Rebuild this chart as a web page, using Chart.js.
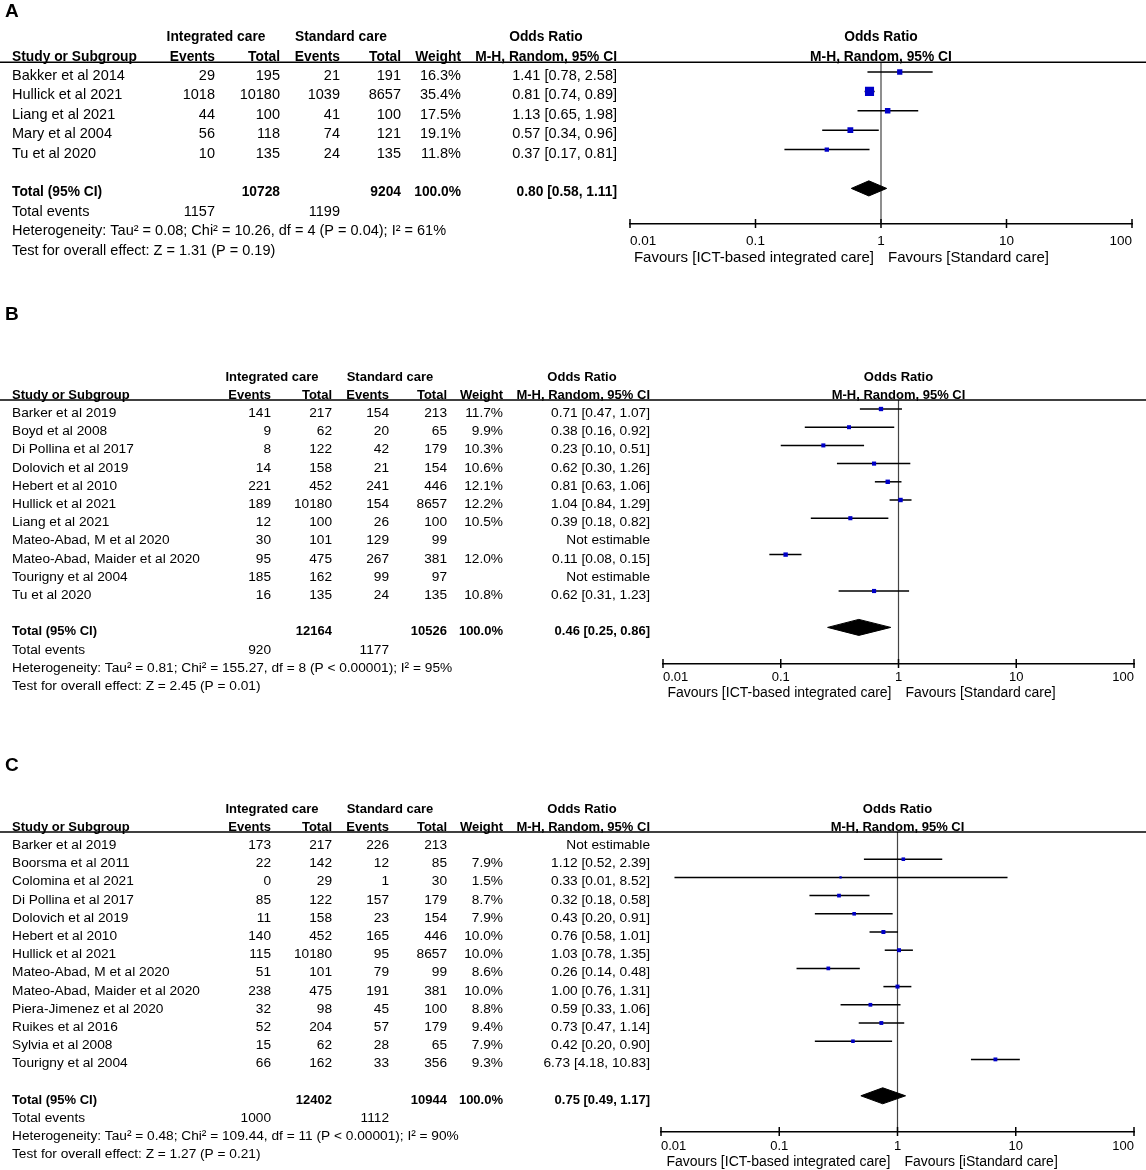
<!DOCTYPE html>
<html>
<head>
<meta charset="utf-8">
<script src="https://cdn.jsdelivr.net/npm/chart.js@4.4.1/dist/chart.umd.min.js"></script>
<style>
  html, body { margin: 0; padding: 0; background: #fff; }
  body { width: 1146px; height: 1170px; position: relative; overflow: hidden; }
  canvas { position: absolute; left: 0; }
</style>
</head>
<body>
<canvas id="panelA" width="1146" height="275" style="top:0px"></canvas>
<canvas id="panelB" width="1146" height="420" style="top:290px"></canvas>
<canvas id="panelC" width="1146" height="425" style="top:745px"></canvas>
<script>
// axe des odds ratios (log)
const tickValues = [0.01, 0.1, 1, 10, 100];
const tickLabels = ['0.01', '0.1', '1', '10', '100'];

// --- Panel A
const studiesA = ['Bakker et al 2014', 'Hullick et al 2021', 'Liang et al 2021', 'Mary et al 2004', 'Tu et al 2020'];
const intEventsA = [29, 1018, 44, 56, 10];
const intTotalA = [195, 10180, 100, 118, 135];
const stdEventsA = [21, 1039, 41, 74, 24];
const stdTotalA = [191, 8657, 100, 121, 135];
const weightA = [16.3, 35.4, 17.5, 19.1, 11.8];
const orA = [1.41, 0.81, 1.13, 0.57, 0.37];
const loA = [0.78, 0.74, 0.65, 0.34, 0.17];
const hiA = [2.58, 0.89, 1.98, 0.96, 0.81];
const totalsA = [10728, 9204];
const pooledA = [0.80, 0.58, 1.11];
const eventsA = [1157, 1199];
const hetA = 'Heterogeneity: Tau\u00b2 = 0.08; Chi\u00b2 = 10.26, df = 4 (P = 0.04); I\u00b2 = 61%';
const testA = 'Test for overall effect: Z = 1.31 (P = 0.19)';
const favoursA = ['Favours [ICT-based integrated care]', 'Favours [Standard care]'];

// --- Panel B
const studiesB = ['Barker et al 2019', 'Boyd et al 2008', 'Di Pollina et al 2017', 'Dolovich et al 2019', 'Hebert et al 2010',
  'Hullick et al 2021', 'Liang et al 2021', 'Mateo-Abad, M et al 2020', 'Mateo-Abad, Maider et al 2020', 'Tourigny et al 2004', 'Tu et al 2020'];
const intEventsB = [141, 9, 8, 14, 221, 189, 12, 30, 95, 185, 16];
const intTotalB = [217, 62, 122, 158, 452, 10180, 100, 101, 475, 162, 135];
const stdEventsB = [154, 20, 42, 21, 241, 154, 26, 129, 267, 99, 24];
const stdTotalB = [213, 65, 179, 154, 446, 8657, 100, 99, 381, 97, 135];
const weightB = [11.7, 9.9, 10.3, 10.6, 12.1, 12.2, 10.5, null, 12.0, null, 10.8];
const orB = [0.71, 0.38, 0.23, 0.62, 0.81, 1.04, 0.39, null, 0.11, null, 0.62];
const loB = [0.47, 0.16, 0.10, 0.30, 0.63, 0.84, 0.18, null, 0.08, null, 0.31];
const hiB = [1.07, 0.92, 0.51, 1.26, 1.06, 1.29, 0.82, null, 0.15, null, 1.23];
const totalsB = [12164, 10526];
const pooledB = [0.46, 0.25, 0.86];
const eventsB = [920, 1177];
const hetB = 'Heterogeneity: Tau\u00b2 = 0.81; Chi\u00b2 = 155.27, df = 8 (P < 0.00001); I\u00b2 = 95%';
const testB = 'Test for overall effect: Z = 2.45 (P = 0.01)';
const favoursB = ['Favours [ICT-based integrated care]', 'Favours [Standard care]'];

// --- Panel C
const studiesC = ['Barker et al 2019', 'Boorsma et al 2011', 'Colomina et al 2021', 'Di Pollina et al 2017', 'Dolovich et al 2019',
  'Hebert et al 2010', 'Hullick et al 2021', 'Mateo-Abad, M et al 2020', 'Mateo-Abad, Maider et al 2020', 'Piera-Jimenez et al 2020',
  'Ruikes et al 2016', 'Sylvia et al 2008', 'Tourigny et al 2004'];
const intEventsC = [173, 22, 0, 85, 11, 140, 115, 51, 238, 32, 52, 15, 66];
const intTotalC = [217, 142, 29, 122, 158, 452, 10180, 101, 475, 98, 204, 62, 162];
const stdEventsC = [226, 12, 1, 157, 23, 165, 95, 79, 191, 45, 57, 28, 33];
const stdTotalC = [213, 85, 30, 179, 154, 446, 8657, 99, 381, 100, 179, 65, 356];
const weightC = [null, 7.9, 1.5, 8.7, 7.9, 10.0, 10.0, 8.6, 10.0, 8.8, 9.4, 7.9, 9.3];
const orC = [null, 1.12, 0.33, 0.32, 0.43, 0.76, 1.03, 0.26, 1.00, 0.59, 0.73, 0.42, 6.73];
const loC = [null, 0.52, 0.013, 0.18, 0.20, 0.58, 0.78, 0.14, 0.76, 0.33, 0.47, 0.20, 4.18];
const hiC = [null, 2.39, 8.52, 0.58, 0.91, 1.01, 1.35, 0.48, 1.31, 1.06, 1.14, 0.90, 10.83];
const totalsC = [12402, 10944];
const pooledC = [0.75, 0.49, 1.17];
const eventsC = [1000, 1112];
const hetC = 'Heterogeneity: Tau\u00b2 = 0.48; Chi\u00b2 = 109.44, df = 11 (P < 0.00001); I\u00b2 = 90%';
const testC = 'Test for overall effect: Z = 1.27 (P = 0.21)';
const favoursC = ['Favours [ICT-based integrated care]', 'Favours [iStandard care]'];

// mise en page (pixels de la page)
const colsA = { name: 12, intEv: 215, intTot: 280, stdEv: 340, stdTot: 401, weight: 461, ci: 617, hInt: 216, hStd: 341, hOr: 546 };
const colsBC = { name: 12, intEv: 271, intTot: 332, stdEv: 389, stdTot: 447, weight: 503, ci: 650, hInt: 272, hStd: 390, hOr: 582 };

const FONT = '"Liberation Sans", Arial, sans-serif';
Chart.defaults.font.family = FONT;
Chart.defaults.font.size = 13;
Chart.defaults.color = '#000';

const fmt = v => v.toFixed(2);
const ciText = (o, l, h) => `${fmt(o)} [${fmt(l)}, ${fmt(h)}]`;

const forestPlugin = {
  id: 'forest',
  afterDraw(chart, args, opts) {
    const { ctx, chartArea } = chart;
    const xs = chart.scales.x, ys = chart.scales.y;
    const p = opts.panel, L = opts.layout, c = opts.cols;
    const base = r => ys.getPixelForValue(r) + 8;
    const txt = (s, px, r, align, bold) => {
      ctx.font = bold ? `bold ${L.fsb}px ${FONT}` : `${L.fs}px ${FONT}`;
      ctx.textAlign = align;
      ctx.textBaseline = 'alphabetic';
      ctx.fillText(String(s), px, base(r));
    };
    ctx.save();
    ctx.fillStyle = '#000';

    // lettre du panneau
    ctx.font = 'bold 19px ' + FONT;
    ctx.textAlign = 'left';
    ctx.textBaseline = 'middle';
    ctx.fillText(p.letter, 5, L.letterY - L.top);

    // ligne d'en-tête
    ctx.strokeStyle = '#000';
    ctx.lineWidth = 1.5;
    ctx.beginPath();
    ctx.moveTo(0, chartArea.top);
    ctx.lineTo(chart.width, chartArea.top);
    ctx.stroke();

    // en-têtes
    txt('Integrated care', c.hInt, -2, 'center', true);
    txt('Standard care', c.hStd, -2, 'center', true);
    txt('Odds Ratio', c.hOr, -2, 'center', true);
    txt('Study or Subgroup', c.name, -1, 'left', true);
    txt('Events', c.intEv, -1, 'right', true);
    txt('Total', c.intTot, -1, 'right', true);
    txt('Events', c.stdEv, -1, 'right', true);
    txt('Total', c.stdTot, -1, 'right', true);
    txt('Weight', c.weight, -1, 'right', true);
    txt('M-H, Random, 95% CI', c.ci, -1, 'right', true);
    const mid = xs.getPixelForValue(1);
    txt('Odds Ratio', mid, -2, 'center', true);
    txt('M-H, Random, 95% CI', mid, -1, 'center', true);

    // lignes des études
    p.studies.forEach((s, i) => {
      txt(s, c.name, i, 'left');
      txt(p.intEvents[i], c.intEv, i, 'right');
      txt(p.intTotal[i], c.intTot, i, 'right');
      txt(p.stdEvents[i], c.stdEv, i, 'right');
      txt(p.stdTotal[i], c.stdTot, i, 'right');
      if (p.weight[i] != null) txt(p.weight[i].toFixed(1) + '%', c.weight, i, 'right');
      txt(p.or[i] != null ? ciText(p.or[i], p.lo[i], p.hi[i]) : 'Not estimable', c.ci, i, 'right');
    });

    // total et pied
    const t = p.studies.length + 1;
    txt('Total (95% CI)', c.name, t, 'left', true);
    txt(p.totals[0], c.intTot, t, 'right', true);
    txt(p.totals[1], c.stdTot, t, 'right', true);
    txt('100.0%', c.weight, t, 'right', true);
    txt(ciText(p.pooled[0], p.pooled[1], p.pooled[2]), c.ci, t, 'right', true);
    txt('Total events', c.name, t + 1, 'left');
    txt(p.events[0], c.intEv, t + 1, 'right');
    txt(p.events[1], c.stdEv, t + 1, 'right');
    txt(p.het, c.name, t + 2, 'left');
    txt(p.test, c.name, t + 3, 'left');

    // graduations de l'axe
    const ay = chartArea.bottom;
    ctx.lineWidth = 1.5;
    tickValues.forEach(v => {
      const px = xs.getPixelForValue(v);
      ctx.beginPath();
      ctx.moveTo(px, ay - 5);
      ctx.lineTo(px, ay + 4);
      ctx.stroke();
    });

    // libellés "Favours"
    ctx.font = `${L.favFs}px ${FONT}`;
    ctx.textBaseline = 'middle';
    ctx.textAlign = 'right';
    ctx.fillText(p.favours[0], mid - 7, ay + L.favDy);
    ctx.textAlign = 'left';
    ctx.fillText(p.favours[1], mid + 7, ay + L.favDy);
    ctx.restore();
  }
};

function buildChart(id, p, L, cols) {
  const canvasH = document.getElementById(id).height;
  const yMax = (L.axisY - L.row0) / L.step;
  const yMin = -0.5;
  const axisH = 30;
  const idx = p.or.map((v, i) => i).filter(i => p.or[i] != null);
  const t = p.studies.length + 1;
  const h = L.diamondH;

  const datasets = [];
  datasets.push({
    data: idx.map(i => ({ x: p.or[i], y: i })),
    pointStyle: 'rect',
    pointRadius: idx.map(i => (2 + 0.2 * p.weight[i]) / Math.SQRT2),
    pointBackgroundColor: '#0000c8',
    pointBorderWidth: 0,
    showLine: false,
    order: 0
  });
  datasets.push({
    data: [
      { x: p.pooled[1], y: t }, { x: p.pooled[0], y: t - h },
      { x: p.pooled[2], y: t }, { x: p.pooled[0], y: t + h }, { x: p.pooled[1], y: t }
    ],
    showLine: true,
    fill: 'shape',
    backgroundColor: '#000',
    borderColor: '#000',
    borderWidth: 1,
    pointRadius: 0,
    order: 1
  });
  idx.forEach(i => datasets.push({
    data: [{ x: p.lo[i], y: i }, { x: p.hi[i], y: i }],
    showLine: true,
    borderColor: '#000',
    borderWidth: 1.5,
    pointRadius: 0,
    order: 2
  }));
  datasets.push({
    data: [{ x: 1, y: yMin }, { x: 1, y: yMax }],
    showLine: true,
    borderColor: '#444',
    borderWidth: 1.2,
    pointRadius: 0,
    order: 3
  });

  return new Chart(document.getElementById(id), {
    type: 'scatter',
    data: { datasets },
    options: {
      responsive: false,
      animation: false,
      events: [],
      layout: {
        padding: {
          left: L.left,
          right: 1146 - L.right,
          top: L.row0 - 0.5 * L.step - L.top,
          bottom: L.top + canvasH - L.axisY - axisH
        }
      },
      plugins: {
        legend: { display: false },
        tooltip: { enabled: false },
        forest: { panel: p, layout: L, cols }
      },
      scales: {
        x: {
          type: 'logarithmic',
          min: 0.01,
          max: 100,
          afterBuildTicks: s => { s.ticks = tickValues.map(v => ({ value: v })); },
          afterFit: s => { s.height = axisH; },
          ticks: {
            align: 'inner',
            autoSkip: false,
            maxRotation: 0,
            padding: L.tickPad,
            color: '#000',
            font: { size: L.tickFs },
            callback: (v, i) => tickLabels[i]
          },
          grid: { drawOnChartArea: false, drawTicks: false },
          border: { display: true, color: '#000', width: 1.5 }
        },
        y: {
          type: 'linear',
          display: false,
          reverse: true,
          min: yMin,
          max: yMax
        }
      }
    },
    plugins: [forestPlugin]
  });
}

const panelA = { letter: 'A', studies: studiesA, intEvents: intEventsA, intTotal: intTotalA, stdEvents: stdEventsA, stdTotal: stdTotalA,
  weight: weightA, or: orA, lo: loA, hi: hiA, totals: totalsA, pooled: pooledA, events: eventsA, het: hetA, test: testA, favours: favoursA };
const panelB = { letter: 'B', studies: studiesB, intEvents: intEventsB, intTotal: intTotalB, stdEvents: stdEventsB, stdTotal: stdTotalB,
  weight: weightB, or: orB, lo: loB, hi: hiB, totals: totalsB, pooled: pooledB, events: eventsB, het: hetB, test: testB, favours: favoursB };
const panelC = { letter: 'C', studies: studiesC, intEvents: intEventsC, intTotal: intTotalC, stdEvents: stdEventsC, stdTotal: stdTotalC,
  weight: weightC, or: orC, lo: loC, hi: hiC, totals: totalsC, pooled: pooledC, events: eventsC, het: hetC, test: testC, favours: favoursC };

buildChart('panelA', panelA, { top: 0, row0: 72, step: 19.4, axisY: 224, left: 630, right: 1132, letterY: 12, favDy: 34,
  tickPad: 9, diamondH: 0.39, fs: 14.5, fsb: 13.8, favFs: 15, tickFs: 13.5 }, colsA);
buildChart('panelB', panelB, { top: 290, row0: 409, step: 18.2, axisY: 664, left: 663, right: 1134, letterY: 315, favDy: 29,
  tickPad: 6, diamondH: 0.44, fs: 13.7, fsb: 13, favFs: 14, tickFs: 13 }, colsBC);
buildChart('panelC', panelC, { top: 745, row0: 841, step: 18.2, axisY: 1132, left: 661, right: 1134, letterY: 766, favDy: 30,
  tickPad: 7, diamondH: 0.44, fs: 13.7, fsb: 13, favFs: 14, tickFs: 13 }, colsBC);
</script>
</body>
</html>
